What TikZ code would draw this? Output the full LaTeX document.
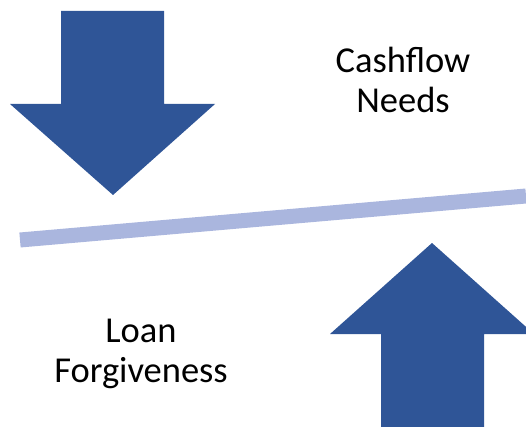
\documentclass[tikz,border=0pt]{standalone}
\usepackage{fontspec}
\setmainfont{Carlito}
\definecolor{arrowblue}{RGB}{47,85,151}
\definecolor{beamblue}{RGB}{170,182,222}
\begin{document}
\begin{tikzpicture}[x=1pt,y=-1pt]

% Fix the page size
\useasboundingbox (0,0) rectangle (526,427);
\clip (0,0) rectangle (526,427);

% Draw the downward arrow
\fill[arrowblue] (61,11) -- (164,11) -- (164,104) -- (215,104) -- (113,195)
    -- (10,104) -- (61,104) -- cycle;

% Draw the tilted beam
\draw[beamblue, line width=15pt] (20,240) -- (526,196);

% Draw the upward arrow
\fill[arrowblue] (381,440) -- (381,334) -- (330,334) -- (432,243)
    -- (534,334) -- (484,334) -- (484,440) -- cycle;

% Label the two forces
\node[align=center, font=\fontsize{36.5}{40}\selectfont, anchor=base] (needs)
    at (403,113) {Cashflow\\Needs};
\node[align=center, font=\fontsize{36.5}{40}\selectfont, anchor=base] (forgive)
    at (141,382) {Loan\\Forgiveness};

\end{tikzpicture}
\end{document}
